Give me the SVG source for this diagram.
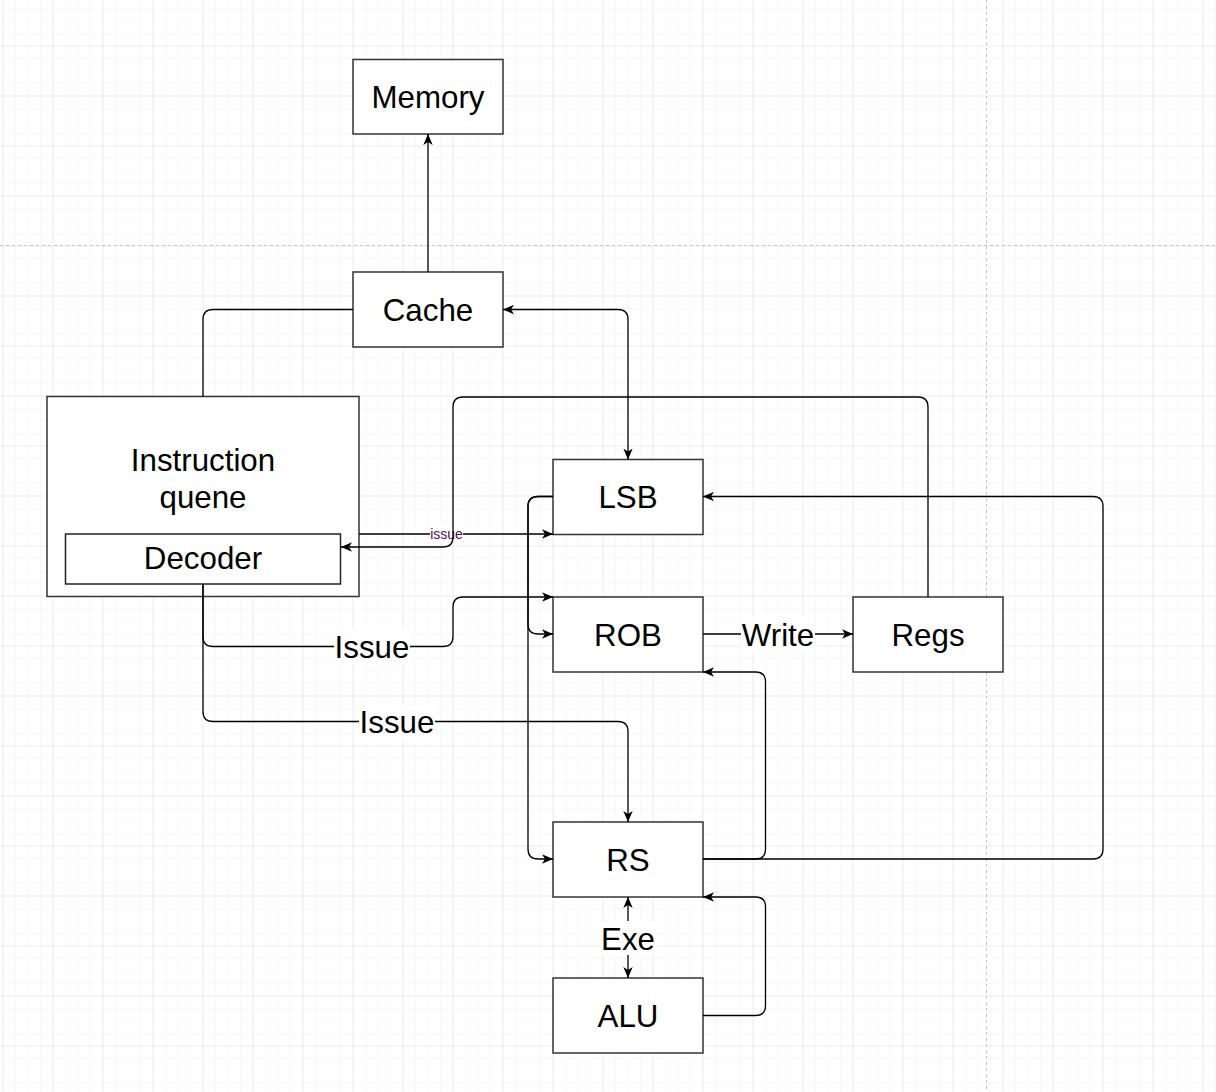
<svg xmlns="http://www.w3.org/2000/svg" width="1216" height="1092" viewBox="0 0 1216 1092">
  <style>
    .node rect { fill: #ffffff; stroke: #333333; stroke-width: 1.5; }
    .node text, .lbl { font-family: "Liberation Sans", Arial, Helvetica, sans-serif; font-size: 31.3px; fill: #000000; text-anchor: middle; }
    .edge { fill: none; stroke: #000000; stroke-width: 1.3; }
    .lblbg { fill: #ffffff; }
    .small { font-size: 14px; fill: #4d104d; }
    .page { stroke: #c4c4c4; stroke-width: 1; stroke-dasharray: 3 3; fill: none; }
  </style>
  <defs>
    <pattern id="gridMinor" patternUnits="userSpaceOnUse" x="2.5" y="45.5" width="12.5" height="12.5">
      <path d="M0 0 H12.5 M0 0 V12.5" fill="none" stroke="#f2f2f2" stroke-width="1"/>
    </pattern>
    <pattern id="gridMajor" patternUnits="userSpaceOnUse" x="2.5" y="45.5" width="50" height="50">
      <path d="M0 0 H50 M0 0 V50" fill="none" stroke="#e0e0e0" stroke-width="1"/>
    </pattern>
    <marker id="arrow" viewBox="0 0 11 10" refX="11" refY="5" markerWidth="11" markerHeight="10" markerUnits="userSpaceOnUse" orient="auto-start-reverse">
      <path d="M0 0.3 L11 5 L0 9.7 L3 5 Z" fill="#000000"/>
    </marker>
  </defs>

  <g id="background">
    <rect x="0" y="0" width="1216" height="1092" fill="#ffffff"/>
    <rect x="0" y="0" width="1216" height="1092" fill="url(#gridMinor)"/>
    <rect x="0" y="0" width="1216" height="1092" fill="url(#gridMajor)"/>
    <line class="page" x1="0" y1="245.5" x2="1216" y2="245.5"/>
    <line class="page" x1="986.5" y1="0" x2="986.5" y2="1092"/>
  </g>

  <g id="node-memory" class="node">
    <rect x="353" y="59.5" width="150" height="74.5"/>
    <text x="428" y="107.5">Memory</text>
  </g>
  <g id="node-cache" class="node">
    <rect x="353" y="272" width="150" height="75"/>
    <text x="428" y="320.5">Cache</text>
  </g>
  <g id="node-instruction-queue" class="node">
    <rect x="47" y="396.5" width="312" height="200"/>
    <text x="203" y="470.5">Instruction</text>
    <text x="203" y="507.5">quene</text>
  </g>
  <g id="node-decoder" class="node">
    <rect x="65.5" y="534" width="275" height="50" style="stroke:#222222"/>
    <text x="203" y="569">Decoder</text>
  </g>
  <g id="node-lsb" class="node">
    <rect x="553" y="459.5" width="150" height="75"/>
    <text x="628" y="507.5">LSB</text>
  </g>
  <g id="node-rob" class="node">
    <rect x="553" y="597" width="150" height="75"/>
    <text x="628" y="645.5">ROB</text>
  </g>
  <g id="node-regs" class="node">
    <rect x="853" y="597" width="150" height="75"/>
    <text x="928" y="645.5">Regs</text>
  </g>
  <g id="node-rs" class="node">
    <rect x="553" y="822" width="150" height="75"/>
    <text x="628" y="870.5">RS</text>
  </g>
  <g id="node-alu" class="node">
    <rect x="553" y="978" width="150" height="75"/>
    <text x="628" y="1026.5">ALU</text>
  </g>

  <g id="connectors">
    <!-- Cache -> Memory -->
    <path class="edge" d="M428 272 V134" marker-end="url(#arrow)"/>
    <!-- Cache -> Instruction queue -->
    <path class="edge" d="M353 309.5 H213 Q203 309.5 203 319.5 V396.5"/>
    <!-- LSB <-> Cache -->
    <path class="edge" d="M628 459.5 V319.5 Q628 309.5 618 309.5 H503" marker-start="url(#arrow)" marker-end="url(#arrow)"/>
    <!-- Instruction queue -> LSB (issue) -->
    <path class="edge" d="M359 534 H553" marker-end="url(#arrow)"/>
    <rect class="lblbg" x="430" y="526" width="33" height="16"/>
    <text class="lbl small" x="446.5" y="538.5">issue</text>
    <!-- Regs -> Decoder -->
    <path class="edge" d="M928 597 V407 Q928 397 918 397 H463 Q453 397 453 407 V537 Q453 547 443 547 H341" marker-end="url(#arrow)"/>
    <!-- LSB -> ROB -->
    <path class="edge" d="M553 496.5 H538 Q528 496.5 528 506.5 V624 Q528 634 538 634 H553" marker-end="url(#arrow)"/>
    <!-- LSB -> RS -->
    <path class="edge" d="M553 496.5 H538 Q528 496.5 528 506.5 V849 Q528 859 538 859 H553" marker-end="url(#arrow)"/>
    <!-- Decoder -> ROB (Issue) -->
    <path class="edge" d="M203 584 V636.5 Q203 646.5 213 646.5 H443 Q453 646.5 453 636.5 V607 Q453 597 463 597 H553" marker-end="url(#arrow)"/>
    <rect class="lblbg" x="334" y="629" width="76" height="35"/>
    <text class="lbl" x="372" y="657.5">Issue</text>
    <!-- Decoder -> RS (Issue) -->
    <path class="edge" d="M203 584 V711.5 Q203 721.5 213 721.5 H618 Q628 721.5 628 731.5 V822" marker-end="url(#arrow)"/>
    <rect class="lblbg" x="359" y="704" width="76" height="35"/>
    <text class="lbl" x="397" y="732.5">Issue</text>
    <!-- ROB -> Regs (Write) -->
    <path class="edge" d="M703 634 H853" marker-end="url(#arrow)"/>
    <rect class="lblbg" x="741" y="617" width="74" height="35"/>
    <text class="lbl" x="778" y="645.5">Write</text>
    <!-- RS -> ROB -->
    <path class="edge" d="M703 859 H755.5 Q765.5 859 765.5 849 V682 Q765.5 672 755.5 672 H703" marker-end="url(#arrow)"/>
    <!-- RS -> LSB -->
    <path class="edge" d="M703 859 H1093 Q1103 859 1103 849 V506.5 Q1103 496.5 1093 496.5 H703" marker-end="url(#arrow)"/>
    <!-- RS <-> ALU (Exe) -->
    <path class="edge" d="M628 897 V978" marker-start="url(#arrow)" marker-end="url(#arrow)"/>
    <rect class="lblbg" x="600" y="921" width="56" height="34"/>
    <text class="lbl" x="628" y="949.5">Exe</text>
    <!-- ALU -> RS -->
    <path class="edge" d="M703 1015.5 H755.5 Q765.5 1015.5 765.5 1005.5 V907 Q765.5 897 755.5 897 H703" marker-end="url(#arrow)"/>
  </g>
</svg>
